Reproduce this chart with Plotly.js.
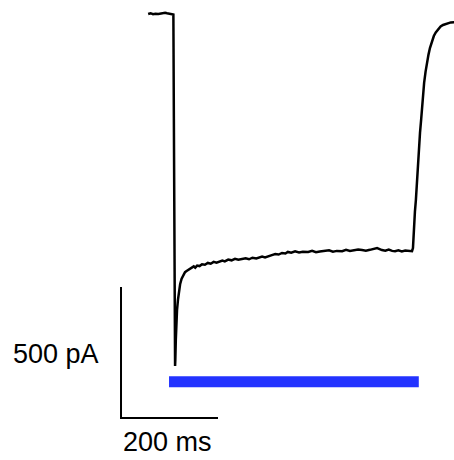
<!DOCTYPE html>
<html>
<head>
<meta charset="utf-8">
<script src="https://cdn.plot.ly/plotly-3.0.1.min.js"></script>
<style>html,body{margin:0;padding:0;background:#fff;}#chart{width:454px;height:460px;}</style>
</head>
<body>
<div id="chart"></div>
<script>
// Current trace: time (ms, light onset = 0) and current (pA)
const traceTime = [-43,-38,-33,-28,-22,-16,-12,-8,-4,0,4,7,9,10,11,12,12.5,13,14,15,16.5,18.5,20.5,23,26,29,33,37,42,47,51,54,58,63,68,74,80,86,92,98,104,110,115,122,129,136,143,151,158,165,172,180,188,192,198,205,212,219,226,233,240,245,252,260,268,276,287,295,303,311,322,330,338,346,357,365,373,381,390,398,406,414,420,425,429,433,439,446,453,460,466,473,480,487,494,501,503,505,507,509,511,513,515,517.5,520,522,524,526,529,532,535,538,542,546,550,555,560,565,570,575,581,588];
const traceCurrent = [0,3,-1,1,0,2,6,5,3,1,0,0,-2,-400,-900,-1250,-1343,-1320,-1244,-1180,-1130,-1090,-1058,-1030,-1010,-998,-985,-980,-974,-970,-963,-968,-960,-962,-955,-957,-950,-953,-946,-949,-944,-941,-944,-937,-940,-934,-938,-935,-932,-936,-930,-933,-928,-926,-929,-923,-920,-916,-918,-912,-914,-908,-911,-906,-910,-907,-908,-904,-909,-906,-905,-902,-907,-904,-905,-900,-904,-902,-899,-901,-903,-900,-898,-897,-893,-896,-901,-903,-899,-904,-905,-902,-906,-903,-905,-905,-893,-805,-755,-710,-640,-576,-515,-454,-400,-347,-305,-263,-220,-183,-155,-130,-104,-84,-70,-57,-48,-42,-38,-34,-32,-31];
// Light stimulus bar (ms)
const lightTime = [0, 515];
const lightLevel = -1403;
// Scale bar: 200 ms x 500 pA
const scaleTime = [-99, -99, 101];
const scaleCurrent = [-1042, -1542, -1542];
const scaleLabels = ["500 pA", "200 ms"];

const data = [
  {x: traceTime, y: traceCurrent, mode: 'lines', line: {color: '#000', width: 2.5}, hoverinfo: 'skip'},
  {x: lightTime, y: [lightLevel, lightLevel], mode: 'lines', line: {color: 'rgb(35,51,255)', width: 11}, hoverinfo: 'skip'},
  {x: scaleTime, y: scaleCurrent, mode: 'lines', line: {color: '#000', width: 2}, hoverinfo: 'skip'}
];
const fontFam = '"Liberation Sans", Arial, Helvetica, sans-serif';
const layout = {
  width: 454, height: 460,
  margin: {l: 0, r: 0, t: 0, b: 0},
  paper_bgcolor: '#fff', plot_bgcolor: '#fff',
  showlegend: false,
  xaxis: {range: [-348.5, 587.6], visible: false, showgrid: false, zeroline: false, fixedrange: true},
  yaxis: {range: [-1702, 53.4], visible: false, showgrid: false, zeroline: false, fixedrange: true},
  annotations: [
    {xref: 'paper', yref: 'paper', x: 56/454, y: 1 - 354/460, xanchor: 'center', yanchor: 'middle', text: scaleLabels[0], showarrow: false, font: {family: fontFam, size: 27, color: '#000'}},
    {xref: 'paper', yref: 'paper', x: 167/454, y: 1 - 442/460, xanchor: 'center', yanchor: 'middle', text: scaleLabels[1], showarrow: false, font: {family: fontFam, size: 27, color: '#000'}}
  ]
};
Plotly.newPlot('chart', data, layout, {displayModeBar: false, staticPlot: true});
</script>
</body>
</html>
